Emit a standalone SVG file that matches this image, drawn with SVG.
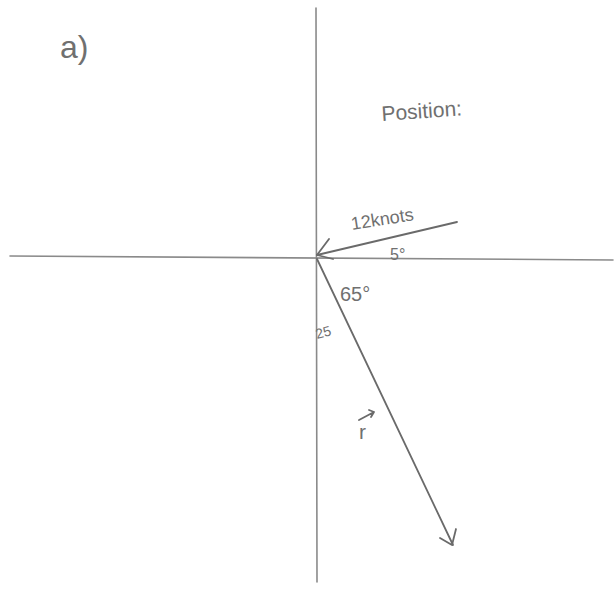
<svg xmlns="http://www.w3.org/2000/svg" width="615" height="590" viewBox="0 0 615 590">
<style>
.ax{stroke:#8a8a8a;stroke-width:1.6;fill:none;stroke-linecap:round}
.vec{stroke:#6a6a6a;stroke-width:1.8;fill:none;stroke-linecap:round;stroke-linejoin:round}
.t{font-family:"Comic Sans MS","Liberation Sans",sans-serif;fill:#707070}
</style>
<rect width="615" height="590" fill="#ffffff"/>
<g id="axes">
<line class="ax" x1="316" y1="8" x2="317" y2="582"/>
<line class="ax" x1="10" y1="256" x2="613" y2="260"/>
</g>
<g id="connectors">
<g id="wind">
<line class="vec" x1="457" y1="222" x2="317" y2="255"/>
<polyline class="vec" points="329,239 317,255 333,259"/>
</g>
<g id="r-vector">
<line class="vec" x1="317" y1="259" x2="453" y2="545"/>
<polyline class="vec" points="440,538 452,545 456,529"/>
</g>
</g>
<g id="labels">
<text class="t" x="60" y="58" font-size="32" fill="#858585">a)</text>
<text class="t" x="382" y="121" font-size="21" transform="rotate(-4 382 121)">Position:</text>
<text class="t" x="352" y="230" font-size="18" transform="rotate(-9 352 230)">12knots</text>
<text class="t" x="390" y="260" font-size="16">5°</text>
<text class="t" x="340" y="301" font-size="20">65°</text>
<text class="t" x="317" y="339" font-size="14" transform="rotate(-15 317 339)">25</text>
<text class="t" x="359" y="439" font-size="21">r</text>
<path class="vec" d="M359,420 L374,412 M369,410 L374,412 L371,417" stroke-width="1.4"/>
</g>
</svg>
